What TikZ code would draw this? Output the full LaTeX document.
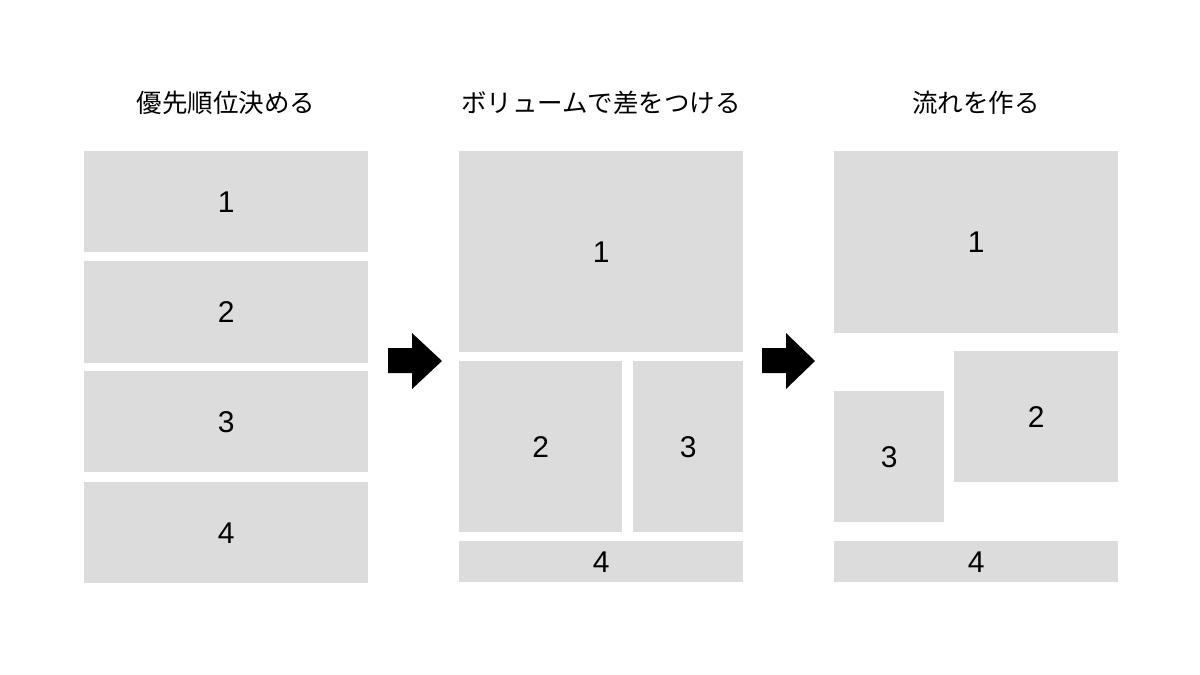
\documentclass[tikz,border=0pt]{standalone}
\usepackage{fontspec}
\setmainfont{Liberation Sans}
\newfontfamily\jpfont{Noto Sans CJK JP}
\definecolor{boxgray}{HTML}{DCDCDC}
\begin{document}
\begin{tikzpicture}[x=1pt,y=-1pt,
  blk/.style={fill=boxgray,draw=none,inner sep=0pt,anchor=north west,font=\fontsize{30}{30}\selectfont},
  ttl/.style={font=\jpfont\fontsize{25.5}{26}\selectfont,inner sep=0pt},
  bigarrow/.style={fill=black}]
\useasboundingbox (0,0) rectangle (1200,675);
% titles
\node[ttl] (t1) at (226,103) {優先順位決める};
\node[ttl] (t2) at (601,103) {ボリュームで差をつける};
\node[ttl] (t3) at (976,103) {流れを作る};
% column 1
\node[blk,minimum width=284,minimum height=101] (a1) at (84,151) {1};
\node[blk,minimum width=284,minimum height=102] (a2) at (84,261) {2};
\node[blk,minimum width=284,minimum height=101] (a3) at (84,371) {3};
\node[blk,minimum width=284,minimum height=101] (a4) at (84,482) {4};
% column 2
\node[blk,minimum width=284,minimum height=201] (b1) at (459,151) {1};
\node[blk,minimum width=163,minimum height=171] (b2) at (459,361) {2};
\node[blk,minimum width=110,minimum height=171] (b3) at (633,361) {3};
\node[blk,minimum width=284,minimum height=41] (b4) at (459,541) {4};
% column 3
\node[blk,minimum width=284,minimum height=182] (c1) at (834,151) {1};
\node[blk,minimum width=164,minimum height=131] (c2) at (954,351) {2};
\node[blk,minimum width=110,minimum height=131] (c3) at (834,391) {3};
\node[blk,minimum width=284,minimum height=41] (c4) at (834,541) {4};
% arrows
\fill[bigarrow] (388,348) -- (412,348) -- (412,333) -- (442,361) -- (412,389) -- (412,373) -- (388,373) -- cycle;
\fill[bigarrow] (762,348) -- (786,348) -- (786,333) -- (815,361) -- (786,389) -- (786,373) -- (762,373) -- cycle;
\end{tikzpicture}
\end{document}
